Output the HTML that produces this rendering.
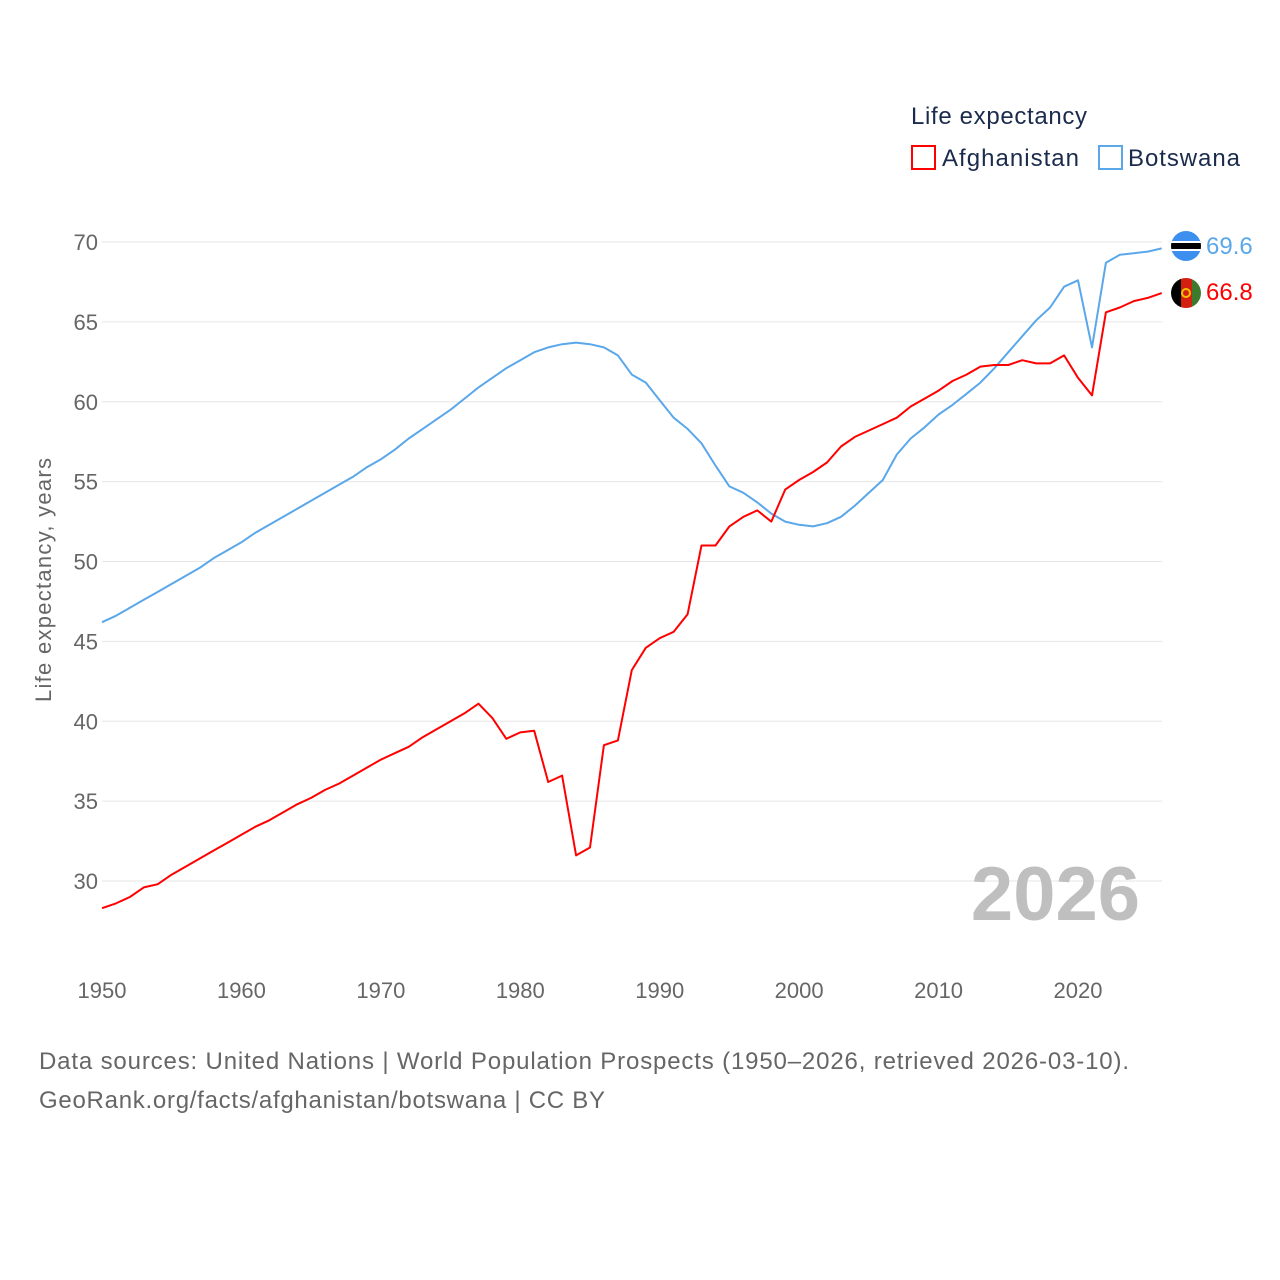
<!DOCTYPE html>
<html><head><meta charset="utf-8"><style>
html,body{margin:0;padding:0;background:#fff;width:1280px;height:1280px;overflow:hidden}
svg{font-family:"Liberation Sans",sans-serif}
</style></head><body>
<svg id="chart" width="1280" height="1280">
<text x="911" y="124" font-size="24" fill="#1a2b4c" textLength="176">Life expectancy</text>
<g><rect x="912" y="146" width="23" height="23" fill="none" stroke="#ff0000" stroke-width="2"/><text x="942" y="166" font-size="24" fill="#1a2b4c" textLength="137">Afghanistan</text></g>
<g><rect x="1099" y="146" width="23" height="23" fill="none" stroke="#5aa7ea" stroke-width="2"/><text x="1128" y="166" font-size="24" fill="#1a2b4c" textLength="112">Botswana</text></g>
<g id="grid"></g><g id="yt"></g><g id="xt"></g>
<text transform="translate(51,580) rotate(-90)" text-anchor="middle" font-size="22" fill="#666" textLength="244">Life expectancy, years</text>
<text x="1140" y="920" text-anchor="end" font-size="76" font-weight="bold" fill="#bfbfbf">2026</text>
<g id="lines"></g>
<g><clipPath id="c1"><circle cx="1186" cy="246" r="15"/></clipPath><g clip-path="url(#c1)"><rect x="1170" y="230" width="32" height="32" fill="#3d8fef"/><rect x="1170" y="241" width="32" height="10" fill="#fff"/><rect x="1170" y="243" width="32" height="6" fill="#000"/></g></g>
<g><clipPath id="c2"><circle cx="1186" cy="293" r="15"/></clipPath><g clip-path="url(#c2)"><rect x="1170" y="277" width="11" height="32" fill="#000"/><rect x="1181" y="277" width="11" height="32" fill="#d32011"/><rect x="1192" y="277" width="11" height="32" fill="#3e7a2e"/><circle cx="1186" cy="293" r="4" fill="none" stroke="#f2c200" stroke-width="2"/></g></g>
<text x="1206" y="254" font-size="24" fill="#5aa7ea">69.6</text>
<text x="1206" y="300" font-size="24" fill="#ff0000">66.8</text>
<text x="39" y="1069" font-size="24" fill="#666" textLength="1090">Data sources: United Nations | World Population Prospects (1950–2026, retrieved 2026-03-10).</text>
<text x="39" y="1108" font-size="24" fill="#666" textLength="566">GeoRank.org/facts/afghanistan/botswana | CC BY</text>
</svg>
<script>
const yTicks=[30,35,40,45,50,55,60,65,70];
const xTicks=[1950,1960,1970,1980,1990,2000,2010,2020];
const startYear=1950;
const afghanistan=[28.3,28.6,29.0,29.6,29.8,30.4,30.9,31.4,31.9,32.4,32.9,33.4,33.8,34.3,34.8,35.2,35.7,36.1,36.6,37.1,37.6,38.0,38.4,39.0,39.5,40.0,40.5,41.1,40.2,38.9,39.3,39.4,36.2,36.6,31.6,32.1,38.5,38.8,43.2,44.6,45.2,45.6,46.7,51.0,51.0,52.2,52.8,53.2,52.5,54.5,55.1,55.6,56.2,57.2,57.8,58.2,58.6,59.0,59.7,60.2,60.7,61.3,61.7,62.2,62.3,62.3,62.6,62.4,62.4,62.9,61.5,60.4,65.6,65.9,66.3,66.5,66.8];
const botswana=[46.2,46.6,47.1,47.6,48.1,48.6,49.1,49.6,50.2,50.7,51.2,51.8,52.3,52.8,53.3,53.8,54.3,54.8,55.3,55.9,56.4,57.0,57.7,58.3,58.9,59.5,60.2,60.9,61.5,62.1,62.6,63.1,63.4,63.6,63.7,63.6,63.4,62.9,61.7,61.2,60.1,59.0,58.3,57.4,56.0,54.7,54.3,53.7,53.0,52.5,52.3,52.2,52.4,52.8,53.5,54.3,55.1,56.7,57.7,58.4,59.2,59.8,60.5,61.2,62.1,63.1,64.1,65.1,65.9,67.2,67.6,63.4,68.7,69.2,69.3,69.4,69.6];
const NS="http://www.w3.org/2000/svg";
const X=y=>102+(y-1950)*13.943;
const Y=v=>242+(70-v)*15.975;
function mk(t,a,p){const e=document.createElementNS(NS,t);for(const k in a)e.setAttribute(k,a[k]);document.getElementById(p).appendChild(e);return e;}
yTicks.forEach(v=>{
 const l=mk('line',{x1:102,x2:1162,y1:Y(v),y2:Y(v),stroke:'#e6e6e6','stroke-width':1},'grid');
 
 
 const t=mk('text',{x:98,y:Y(v)+8,'text-anchor':'end','font-size':22,fill:'#666'},'yt');t.textContent=v;
 
 
});
xTicks.forEach(v=>{
 const t=mk('text',{x:X(v),y:998,'text-anchor':'middle','font-size':22,fill:'#666'},'xt');t.textContent=v;
 
 
});
function line(d,c,n){
 const pts=d.map((v,i)=>X(startYear+i).toFixed(1)+','+Y(v).toFixed(1)).join(' ');
 const p=mk('polyline',{points:pts,fill:'none',stroke:c,'stroke-width':2,'stroke-linejoin':'round'},'lines');
 
 
}
line(botswana,'#5aa7ea','botswana-line');
line(afghanistan,'#ff0000','afghanistan-line');
</script>
</body></html>
